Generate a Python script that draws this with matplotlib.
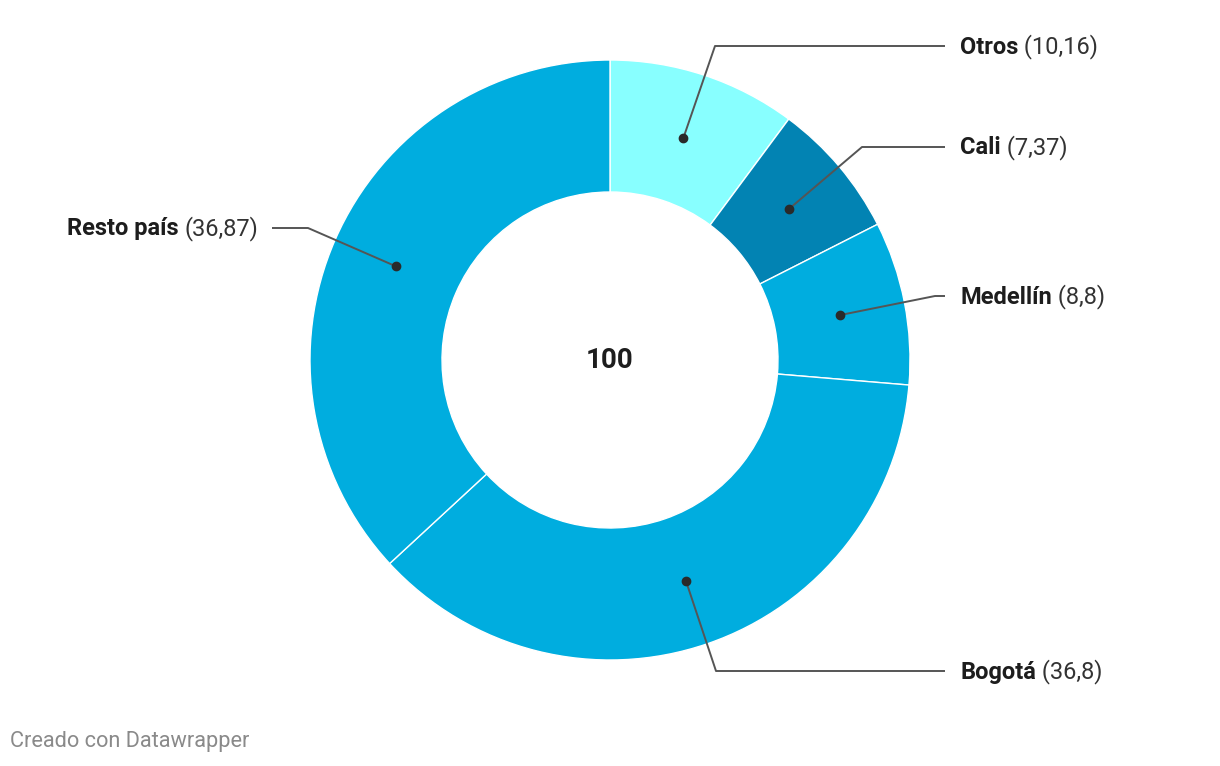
import numpy as np
import matplotlib
matplotlib.use("Agg")
import matplotlib.pyplot as plt

# Data
labels = ["Otros", "Cali", "Medellín", "Bogotá", "Resto país"]
values = [10.16, 7.37, 8.8, 36.8, 36.87]
value_text = ["10,16", "7,37", "8,8", "36,8", "36,87"]
colors = ["#88ffff", "#0283b3", "#00addf", "#00addf", "#00addf"]
total_text = "100"

plt.rcParams["font.family"] = ["Roboto", "DejaVu Sans"]

W, H = 1220, 766
fig = plt.figure(figsize=(W / 100, H / 100), dpi=100)
ax = fig.add_axes([0, 0, 1, 1])

cx, cy = 610, H - 360
r_out, r_in = 300, 168

wedges, _ = ax.pie(values, colors=colors, startangle=90, counterclock=False,
                   radius=r_out, center=(cx, cy), frame=True,
                   wedgeprops=dict(width=r_out - r_in, edgecolor="white", linewidth=1))
ax.set_xlim(0, W)
ax.set_ylim(0, H)
ax.set_aspect("equal")
ax.axis("off")

ax.text(cx, cy, total_text, ha="center", va="center", fontsize=20,
        fontweight="bold", color="#1d1d1d")

# label layout: (label y in px, elbow x, end x, side)
layout = [
    (47, 715, 945, "right"),
    (148, 862, 945, "right"),
    (297, 935, 945, "right"),
    (672, 716, 945, "right"),
    (229, 308, 272, "left"),
]

fs = 17
r_mid = (r_out + r_in) / 2
cum = 0
for lab, val, vt, (ly, ex, endx, side) in zip(labels, values, value_text, layout):
    ang = np.deg2rad(90 - (cum + val / 2) * 3.6)
    cum += val
    dx = cx + r_mid * np.cos(ang)
    dy = cy + r_mid * np.sin(ang)
    yy = H - ly
    ax.plot([dx, ex, endx], [dy, yy + 1, yy + 1], color="#555555", lw=1.4,
            solid_capstyle="butt", zorder=3)
    ax.plot(dx, dy, "o", color="#2a2a2a", ms=6, zorder=4)
    if side == "right":
        t = ax.text(endx + 15, yy, lab, ha="left", va="center", fontsize=fs,
                    fontweight="bold", color="#1d1d1d")
        ax.annotate(" (" + vt + ")", xycoords=t, xy=(1, 0.5), va="center",
                    ha="left", fontsize=fs, color="#333333")
    else:
        t = ax.text(endx - 14, yy, "(" + vt + ")", ha="right", va="center",
                    fontsize=fs, color="#333333")
        ax.annotate(lab + " ", xycoords=t, xy=(0, 0.5), va="center",
                    ha="right", fontsize=fs, fontweight="bold", color="#1d1d1d")

ax.text(10, H - 742, "Creado con Datawrapper", ha="left", va="center",
        fontsize=15.7, color="#8a8a8a")

fig.savefig("out.png", dpi=100)
